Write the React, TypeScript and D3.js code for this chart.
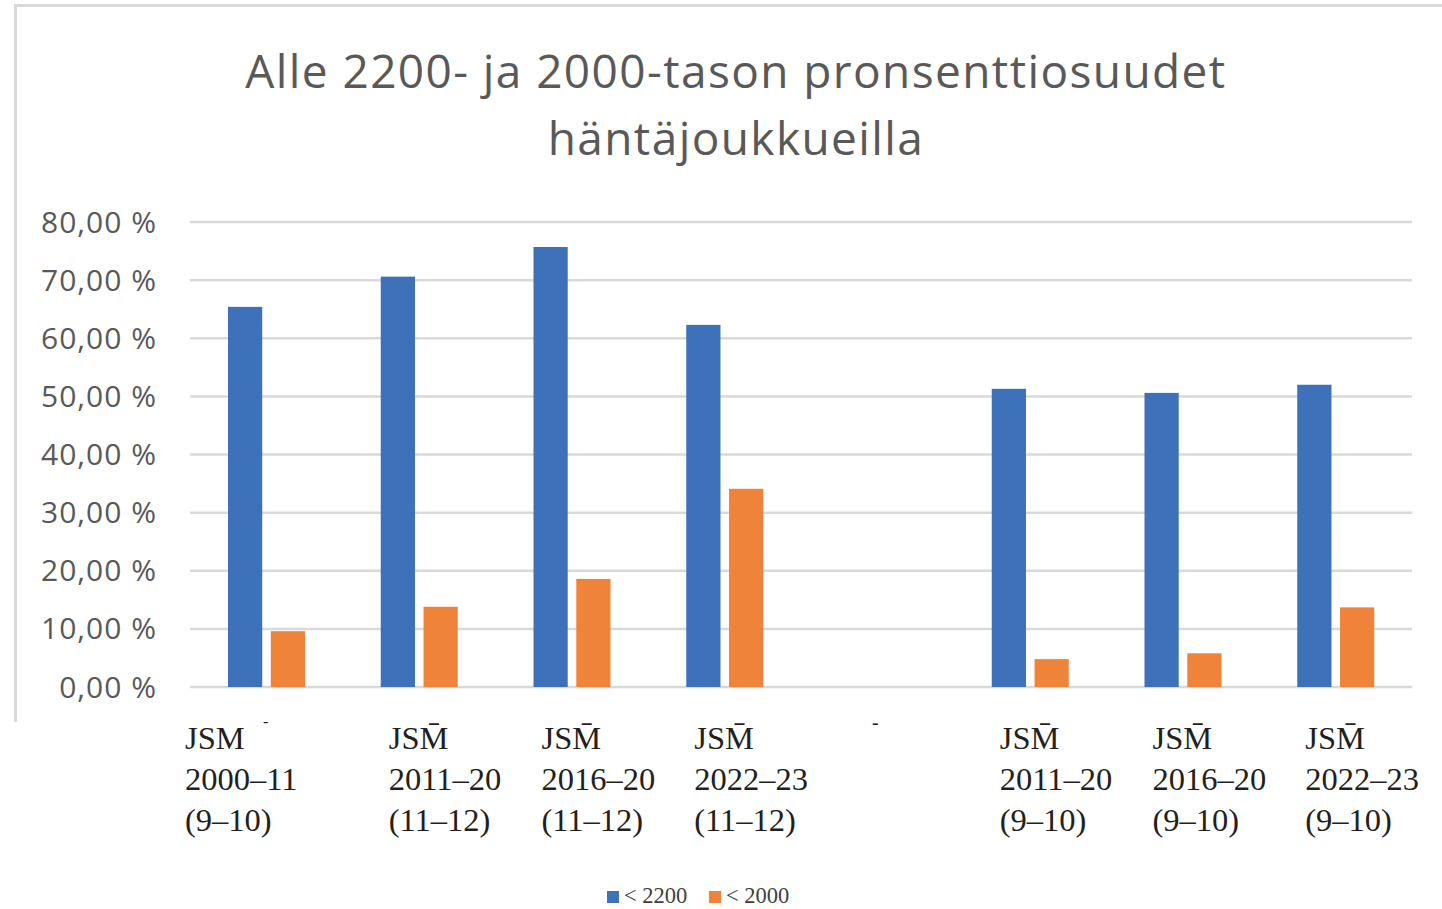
import * as d3 from "d3"

const categories = [
  ["JSM", "2000–11", "(9–10)"],
  ["JSM̄", "2011–20", "(11–12)"],
  ["JSM̄", "2016–20", "(11–12)"],
  ["JSM̄", "2022–23", "(11–12)"],
  ["", "", ""],
  ["JSM̄", "2011–20", "(9–10)"],
  ["JSM̄", "2016–20", "(9–10)"],
  ["JSM̄", "2022–23", "(9–10)"],
]
const seriesNames = ["< 2200", "< 2000"]
const below2200 = [65.4, 70.6, 75.7, 62.3, null, 51.3, 50.6, 52.0]
const below2000 = [9.6, 13.8, 18.6, 34.1, null, 4.8, 5.8, 13.7]
const yTicks = [0, 10, 20, 30, 40, 50, 60, 70, 80]
const titleLines = ["Alle 2200- ja 2000-tason pronsenttiosuudet", "häntäjoukkueilla"]

const colors = ["#3d71ba", "#f0833a"]
const W = 1442
const H = 909

export default function App() {
  const x0 = d3.scaleBand<number>().domain(categories.map((_, i) => i)).range([190, 1412])
  const x1 = d3.scaleBand<number>().domain([0, 1]).range([38, 115]).paddingInner(0.2)
  const y = d3.scaleLinear().domain([0, 80]).range([687, 222])
  const series = [below2200, below2000]
  const fmt = (v: number) => v.toFixed(2).replace(".", ",") + " %"

  return (
    <svg width={W} height={H} style={{ position: "absolute", left: 0, top: 0, background: "#fff" }}>
      {/* frame */}
      <line x1={15} y1={5.5} x2={W} y2={5.5} stroke="#d9d9d9" strokeWidth={3} />
      <line x1={15.5} y1={4} x2={15.5} y2={722} stroke="#d9d9d9" strokeWidth={3} />

      {/* title */}
      <g fontFamily="'Open Sans', sans-serif" fontSize={46} letterSpacing={1.4} fill="#595959" textAnchor="middle">
        {titleLines.map((t, i) => (
          <text key={i} x={736} y={88 + i * 67}>
            {t}
          </text>
        ))}
      </g>

      {/* grid + y labels */}
      {yTicks.map((t) => (
        <g key={t}>
          <line x1={190} x2={1412} y1={y(t)} y2={y(t)} stroke="#d9d9d9" strokeWidth={2.5} />
          <text
            x={157}
            y={y(t)}
            dy="0.35em"
            textAnchor="end"
            fontFamily="'Open Sans', sans-serif"
            fontSize={30}
            letterSpacing={1}
            fill="#595959"
          >
            {fmt(t)}
          </text>
        </g>
      ))}

      {/* bars */}
      {series.map((s, si) =>
        s.map((v, ci) =>
          v == null ? null : (
            <rect
              key={`${si}-${ci}`}
              x={(x0(ci) ?? 0) + (x1(si) ?? 0)}
              y={y(v)}
              width={x1.bandwidth()}
              height={y(0) - y(v)}
              fill={colors[si]}
            />
          )
        )
      )}

      {/* x labels */}
      <g fontFamily="'Liberation Serif', serif" fontSize={32.5} fill="#231f20">
        {categories.map((lines, i) => {
          const lx = i === 0 ? (x0(i) ?? 0) - 5 : (x0(i) ?? 0) + 46
          return (
            <text key={i} x={lx} y={749}>
              {lines.map((l, j) => (
                <tspan key={j} x={lx} dy={j === 0 ? 0 : 41}>
                  {l}
                </tspan>
              ))}
            </text>
          )
        })}
        <text x={263} y={727} fontSize={16}>-</text>
        <text x={872} y={729} fontSize={20}>-</text>
      </g>

      {/* legend */}
      <g fontFamily="'Liberation Serif', serif" fontSize={22.5} fill="#404040">
        {seriesNames.map((n, i) => (
          <g key={n} transform={`translate(${607 + i * 102},891)`}>
            <rect x={0} y={0} width={12} height={12} fill={colors[i]} />
            <text x={17} y={12}>
              {n}
            </text>
          </g>
        ))}
      </g>
    </svg>
  )
}
